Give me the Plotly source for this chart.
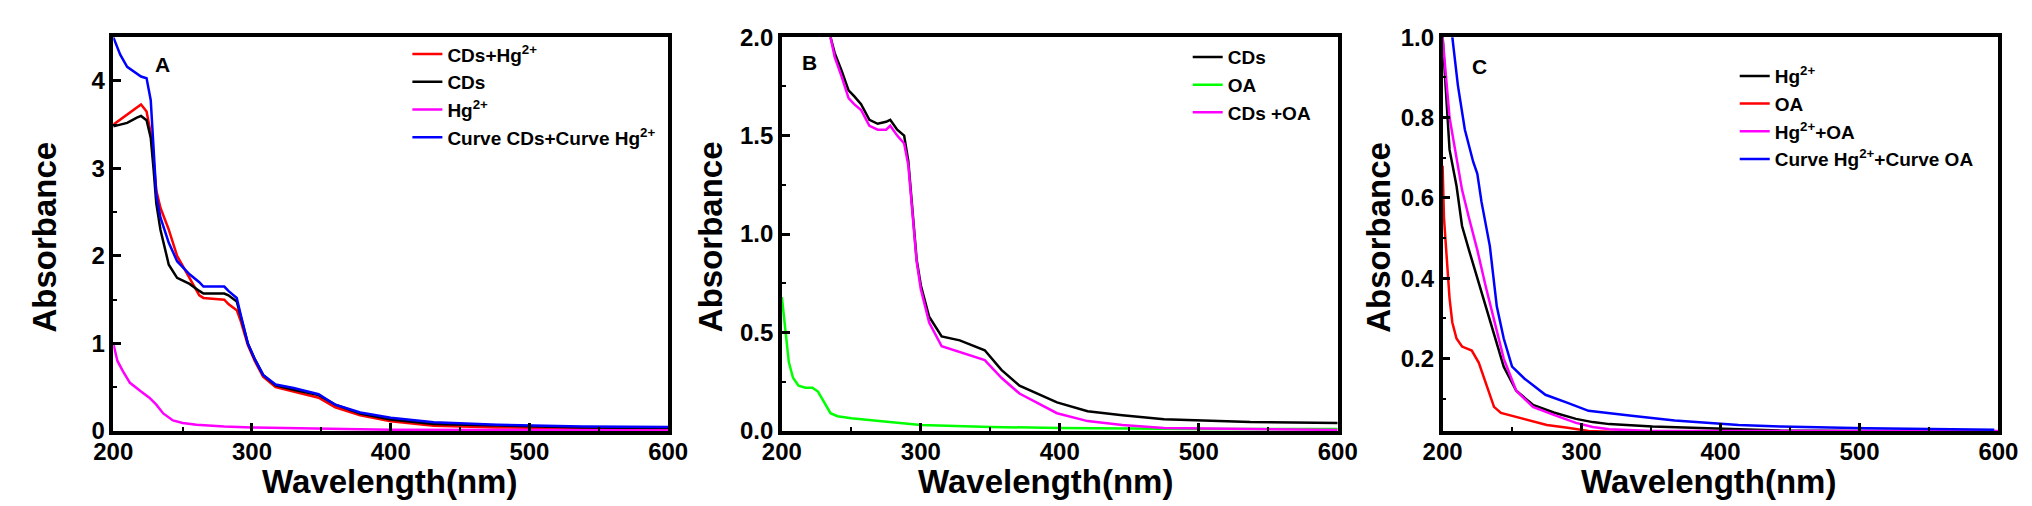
import plotly.graph_objects as go

# Panel A - CDs / Hg2+ spectra
wl_a = [200, 205, 210, 217, 220, 224, 227, 229, 231, 234, 240, 246, 255, 262, 265, 277, 280,
        283, 289, 292, 297, 302, 308, 317, 330, 348, 360, 378, 400, 431, 477, 538, 600]
cds_hg_a = [3.50, 3.56, 3.62, 3.70, 3.73, 3.65, 3.40, 3.10, 2.75, 2.55, 2.30, 2.00, 1.75, 1.55,
            1.52, 1.50, 1.50, 1.45, 1.38, 1.25, 0.98, 0.80, 0.62, 0.50, 0.45, 0.38, 0.27, 0.18,
            0.11, 0.06, 0.04, 0.03, 0.02]
cds_a = [3.48, 3.50, 3.52, 3.58, 3.60, 3.55, 3.35, 3.00, 2.60, 2.30, 1.90, 1.75, 1.68, 1.60,
         1.57, 1.57, 1.57, 1.55, 1.48, 1.30, 1.00, 0.82, 0.64, 0.52, 0.47, 0.41, 0.30, 0.20,
         0.13, 0.08, 0.06, 0.04, 0.035]
sum_a = [4.50, 4.30, 4.16, 4.08, 4.05, 4.03, 3.78, 3.24, 2.70, 2.44, 2.15, 1.94, 1.79, 1.70,
         1.65, 1.65, 1.65, 1.60, 1.52, 1.32, 1.00, 0.82, 0.64, 0.53, 0.49, 0.42, 0.30, 0.21,
         0.15, 0.10, 0.07, 0.05, 0.045]
wl_hg_a = [200, 203, 207, 212, 220, 226, 231, 236, 243, 250, 260, 280, 300, 350, 400, 500, 600]
hg_a = [1.00, 0.80, 0.68, 0.55, 0.45, 0.38, 0.30, 0.20, 0.12, 0.09, 0.07, 0.05, 0.04, 0.025,
        0.015, 0.01, 0.005]

# Panel B - CDs / OA spectra
wl_b = [235, 238, 243, 248, 252, 257, 263, 269, 275, 278, 283, 288, 291, 294, 297, 300, 306,
        315, 328, 346, 358, 371, 398, 420, 445, 475, 537, 600]
cds_b = [2.00, 1.92, 1.83, 1.73, 1.70, 1.66, 1.58, 1.56, 1.57, 1.58, 1.53, 1.50, 1.37, 1.11,
         0.87, 0.74, 0.58, 0.48, 0.46, 0.41, 0.31, 0.23, 0.145, 0.10, 0.08, 0.06, 0.045, 0.04]
cds_oa_b = [2.00, 1.90, 1.80, 1.69, 1.66, 1.63, 1.55, 1.53, 1.53, 1.55, 1.50, 1.46, 1.35, 1.10,
            0.86, 0.72, 0.55, 0.43, 0.40, 0.36, 0.27, 0.19, 0.09, 0.05, 0.03, 0.015, 0.01, 0.005]
wl_oa_b = [200, 202, 205, 208, 212, 217, 222, 226, 230, 235, 240, 250, 270, 300, 350, 400, 500, 600]
oa_b = [0.68, 0.55, 0.35, 0.27, 0.23, 0.22, 0.22, 0.20, 0.15, 0.09, 0.075, 0.065, 0.05, 0.03,
        0.02, 0.015, 0.01, 0.01]

# Panel C - Hg2+ / OA spectra
wl_c = [200, 202, 205, 210, 214, 219, 225, 231, 237, 244, 253, 265, 280, 296, 308, 320, 351,
        400, 443, 500, 600]
hg_c = [1.00, 0.88, 0.72, 0.63, 0.53, 0.47, 0.40, 0.33, 0.26, 0.18, 0.12, 0.085, 0.066, 0.05,
        0.042, 0.037, 0.031, 0.025, 0.021, 0.02, 0.019]
hg_oa_c = [1.00, 0.92, 0.80, 0.70, 0.62, 0.55, 0.47, 0.38, 0.30, 0.20, 0.12, 0.08, 0.06, 0.04,
           0.03, 0.024, 0.02, 0.02, 0.02, 0.02, 0.02]
wl_sum_c = [207, 211, 216, 222, 225, 228, 234, 239, 244, 250, 259, 274, 290, 305, 336, 367,
            413, 443, 505, 597]
sum_c = [1.00, 0.88, 0.77, 0.69, 0.66, 0.59, 0.48, 0.33, 0.25, 0.18, 0.15, 0.11, 0.09, 0.07,
         0.058, 0.046, 0.035, 0.031, 0.027, 0.023]
wl_oa_c = [200, 201, 203, 205, 207, 210, 214, 221, 226, 231, 237, 242, 250, 260, 275, 290,
           305, 320, 600]
oa_c = [0.68, 0.55, 0.45, 0.35, 0.29, 0.25, 0.23, 0.22, 0.19, 0.14, 0.08, 0.065, 0.058, 0.048,
        0.035, 0.028, 0.02, 0.018, 0.018]

FONT = "Liberation Sans"
LW = 2.5

fig = go.Figure()


def add(x, y, name, color, ax, leg):
    fig.add_trace(go.Scatter(x=x, y=y, name=name, mode="lines",
                             line=dict(color=color, width=LW),
                             xaxis="x" + ax, yaxis="y" + ax, legend=leg))


add(wl_a, cds_hg_a, "CDs+Hg<sup>2+</sup>", "#ff0000", "", "legend")
add(wl_a, cds_a, "CDs", "#000000", "", "legend")
add(wl_hg_a, hg_a, "Hg<sup>2+</sup>", "#ff00ff", "", "legend")
add(wl_a, sum_a, "Curve CDs+Curve Hg<sup>2+</sup>", "#0000ff", "", "legend")

add(wl_b, cds_b, "CDs", "#000000", "2", "legend2")
add(wl_oa_b, oa_b, "OA", "#00ff00", "2", "legend2")
add(wl_b, cds_oa_b, "CDs +OA", "#ff00ff", "2", "legend2")

add(wl_c, hg_c, "Hg<sup>2+</sup>", "#000000", "3", "legend3")
add(wl_oa_c, oa_c, "OA", "#ff0000", "3", "legend3")
add(wl_c, hg_oa_c, "Hg<sup>2+</sup>+OA", "#ff00ff", "3", "legend3")
add(wl_sum_c, sum_c, "Curve Hg<sup>2+</sup>+Curve OA", "#0000ff", "3", "legend3")

tickfont = dict(family=FONT, size=24, weight="bold", color="black")
ydom = [1 - 432 / 506, 1 - 16 / 506]
xdoms = [[87 / 2032, 653 / 2032], [769 / 2032, 1336 / 2032], [1443 / 2032, 2010 / 2032]]


def xax(dom, anchor):
    return dict(domain=dom, anchor=anchor, range=[200, 600], tickvals=[200, 300, 400, 500, 600],
                ticks="inside", ticklen=8, tickwidth=2.5, tickcolor="black", ticklabelstandoff=-3,
                minor=dict(dtick=50, ticks="inside", ticklen=4, tickwidth=2, tickcolor="black"),
                showline=True, linewidth=3.5, linecolor="black", mirror=True,
                showgrid=False, zeroline=False, tickfont=tickfont)


def yax(anchor, rng, vals, dminor, fmt):
    return dict(domain=ydom, anchor=anchor, range=rng, tickvals=vals, tickformat=fmt,
                ticks="inside", ticklen=8, tickwidth=2.5, tickcolor="black",
                minor=dict(dtick=dminor, ticks="inside", ticklen=4, tickwidth=2, tickcolor="black"),
                showline=True, linewidth=3.5, linecolor="black", mirror=True,
                showgrid=False, zeroline=False, tickfont=tickfont)


legfont = dict(family=FONT, size=19, weight="bold", color="black")


def leg(x, y):
    return dict(x=x, y=y, xanchor="left", yanchor="top", font=legfont,
                bgcolor="rgba(0,0,0,0)", borderwidth=0, tracegroupgap=0)


fig.update_layout(
    width=2032, height=506, margin=dict(l=0, r=0, t=0, b=0),
    paper_bgcolor="white", plot_bgcolor="white",
    font=dict(family=FONT, weight="bold", color="black"),
    xaxis=xax(xdoms[0], "y"), yaxis=yax("x", [0, 4.5], [0, 1, 2, 3, 4], 0.5, "d"),
    xaxis2=xax(xdoms[1], "y2"), yaxis2=yax("x2", [0, 2.0], [0, 0.5, 1.0, 1.5, 2.0], 0.25, ".1f"),
    xaxis3=xax(xdoms[2], "y3"), yaxis3=yax("x3", [0.02, 1.0], [0.2, 0.4, 0.6, 0.8, 1.0], 0.1, ".1f"),
    legend=leg(387 / 2032, 1 - 14 / 506),
    legend2=leg(1183 / 2032, 1 - 17 / 506),
    legend3=leg(1741 / 2032, 1 - 37 / 506),
    showlegend=True,
)

# axis titles and panel letters
title_font = dict(family=FONT, size=33, weight="bold", color="black")
for xc, yc_x in [(369, 17), (1038, 697), (1714, 1378)]:
    fig.add_annotation(text="Wavelength(nm)", x=xc / 2032, y=1 - 485 / 506, xref="paper",
                       yref="paper", showarrow=False, font=title_font,
                       xanchor="center", yanchor="middle")
    fig.add_annotation(text="Absorbance", x=yc_x / 2032, y=1 - 227 / 506, xref="paper",
                       yref="paper", showarrow=False, font=title_font, textangle=-90,
                       xanchor="center", yanchor="middle")

for lab, px, py in [("A", 137, 45), ("B", 797, 43), ("C", 1481, 47)]:
    fig.add_annotation(text=lab, x=px / 2032, y=1 - py / 506, xref="paper", yref="paper",
                       showarrow=False, xanchor="center", yanchor="middle",
                       font=dict(family=FONT, size=21, weight="bold", color="black"))

fig.write_html("out.html")
